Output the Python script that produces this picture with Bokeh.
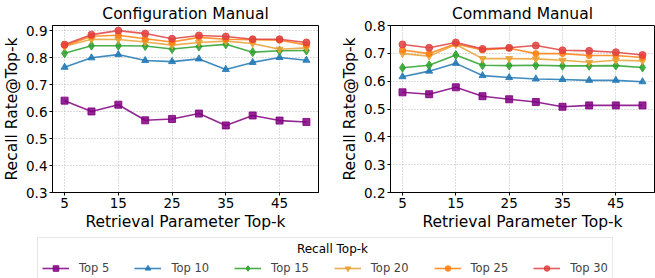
from bokeh.plotting import figure
from bokeh.models import Legend, LegendItem, Label, FixedTicker, Range1d
from bokeh.layouts import column, row
from bokeh.embed import file_html
from bokeh.resources import INLINE

# ---------------- data ----------------
top_k = [5, 10, 15, 20, 25, 30, 35, 40, 45, 50]
series_names = ["Top 5", "Top 10", "Top 15", "Top 20", "Top 25", "Top 30"]
x_ticks = [5, 15, 25, 35, 45]

config_top5 = [0.641, 0.601, 0.626, 0.568, 0.573, 0.593, 0.549, 0.586, 0.567, 0.562]
config_top10 = [0.765, 0.800, 0.812, 0.790, 0.786, 0.796, 0.757, 0.783, 0.801, 0.791]
config_top15 = [0.817, 0.845, 0.845, 0.844, 0.833, 0.842, 0.850, 0.821, 0.826, 0.827]
config_top20 = [0.843, 0.869, 0.868, 0.859, 0.847, 0.857, 0.862, 0.853, 0.832, 0.837]
config_top25 = [0.845, 0.880, 0.884, 0.871, 0.859, 0.876, 0.869, 0.867, 0.865, 0.848]
config_top30 = [0.849, 0.886, 0.901, 0.890, 0.871, 0.883, 0.879, 0.869, 0.869, 0.857]

command_top5 = [0.560, 0.553, 0.578, 0.546, 0.535, 0.525, 0.508, 0.513, 0.513, 0.513]
command_top10 = [0.616, 0.636, 0.664, 0.620, 0.613, 0.608, 0.606, 0.603, 0.603, 0.598]
command_top15 = [0.648, 0.657, 0.694, 0.657, 0.656, 0.657, 0.655, 0.655, 0.656, 0.649]
command_top20 = [0.699, 0.690, 0.732, 0.681, 0.681, 0.680, 0.675, 0.668, 0.675, 0.673]
command_top25 = [0.712, 0.699, 0.734, 0.712, 0.718, 0.699, 0.699, 0.692, 0.692, 0.685]
command_top30 = [0.732, 0.720, 0.739, 0.716, 0.720, 0.728, 0.711, 0.709, 0.704, 0.694]

config_series = [config_top5, config_top10, config_top15, config_top20, config_top25, config_top30]
command_series = [command_top5, command_top10, command_top15, command_top20, command_top25, command_top30]

# ---------------- styles ----------------
colors = ["#800080", "#1f77b4", "#2ca02c", "#e8a033", "#ff7f0e", "#e0403f"]
markers = ["square", "triangle", "diamond", "inverted_triangle", "circle", "circle"]
msizes = [7, 7, 9, 7, 6, 7]
FONT = "DejaVu Sans"


def make_panel(title, series, y0, y1, yticks, width, border_left, border_right):
    p = figure(width=width, height=233, output_backend="svg", toolbar_location=None,
               x_range=Range1d(2.75, 52.25), y_range=Range1d(y0, y1),
               min_border_left=border_left, min_border_right=border_right,
               min_border_top=0, min_border_bottom=0)
    p.title.text = title
    p.title.align = "center"
    p.title.text_font = FONT
    p.title.text_font_size = "15.5px"
    p.title.text_font_style = "normal"
    p.title.text_color = "black"
    p.title.standoff = 5
    p.title.offset = 0
    for ax in (p.xaxis[0], p.yaxis[0]):
        ax.major_label_text_font = FONT
        ax.major_label_text_font_size = "13.5px"
        ax.axis_label_text_font = FONT
        ax.axis_label_text_font_size = "15.5px"
        ax.axis_label_text_font_style = "normal"
        ax.major_tick_out = 3
        ax.major_tick_in = 0
        ax.minor_tick_out = 0
        ax.minor_tick_in = 0
        ax.major_label_standoff = 2
        ax.axis_label_standoff = 2
        ax.axis_line_color = "black"
        ax.major_tick_line_color = "black"
        ax.major_label_text_color = "black"
        ax.axis_label_text_color = "black"
    p.xaxis.axis_label = "Retrieval Parameter Top-k"
    p.yaxis.axis_label = "Recall Rate@Top-k"
    p.xaxis.ticker = FixedTicker(ticks=x_ticks)
    p.yaxis.ticker = FixedTicker(ticks=yticks)
    p.outline_line_color = "black"
    p.outline_line_width = 1
    p.outline_line_alpha = 1
    for g in (p.xgrid[0], p.ygrid[0]):
        g.grid_line_color = "#b8b8b8"
        g.grid_line_dash = "1 2"
        g.grid_line_width = 1
    for vals, c, m, s in zip(series, colors, markers, msizes):
        p.line(top_k, vals, line_color=c, line_width=1.6, line_alpha=0.85)
        p.scatter(top_k, vals, marker=m, size=s, fill_color=c, line_color=c,
                  fill_alpha=0.85, line_alpha=0.85)
    return p


p1 = make_panel("Configuration Manual", config_series, 0.3, 0.92,
                [0.3, 0.4, 0.5, 0.6, 0.7, 0.8, 0.9], 330, 51, 12)
p2 = make_panel("Command Manual", command_series, 0.2, 0.8,
                [0.2, 0.3, 0.4, 0.5, 0.6, 0.7, 0.8], 325, 60, 1)

# ---------------- legend strip ----------------
lw, lh = 655, 45
lb_left, lb_top = 37, 4
p3 = figure(width=lw, height=lh, output_backend="svg", toolbar_location=None,
            x_range=Range1d(0, lw - lb_left), y_range=Range1d(0, lh - lb_top),
            min_border_left=lb_left, min_border_top=lb_top, min_border_right=0, min_border_bottom=0)
p3.axis.visible = False
p3.grid.visible = False
p3.outline_line_color = None
p3.background_fill_color = "white"
items = []
for name, c, m, s in zip(series_names, colors, markers, msizes):
    lr = p3.line([-50, -40], [-50, -40], line_color=c, line_width=1.6, line_alpha=0.85)
    sr = p3.scatter([-50], [-50], marker=m, size=s - 1, fill_color=c, line_color=c,
                    fill_alpha=0.85, line_alpha=0.85)
    items.append(LegendItem(label=name, renderers=[lr, sr]))
legend = Legend(items=items, orientation="horizontal", location="top_left", margin=0,
                padding=4, spacing=25, glyph_width=27, glyph_height=14,
                label_height=14, label_width=20, label_standoff=10,
                label_text_font=FONT, label_text_font_size="11.5px",
                title="Recall Top-k", title_text_font=FONT, title_text_font_size="12px",
                title_text_alpha=0, title_standoff=5,
                border_line_color="#d0d0d0", border_line_width=1,
                background_fill_alpha=0)
p3.add_layout(legend, "center")
title_lbl = Label(x=295, y=lh - lb_top - 11, text="Recall Top-k", text_align="center",
                  text_baseline="middle", text_font=FONT, text_font_size="12px",
                  text_color="black")
p3.add_layout(title_lbl)

layout = column(row(p1, p2), p3)
open("out.html", "w").write(file_html(layout, INLINE))
